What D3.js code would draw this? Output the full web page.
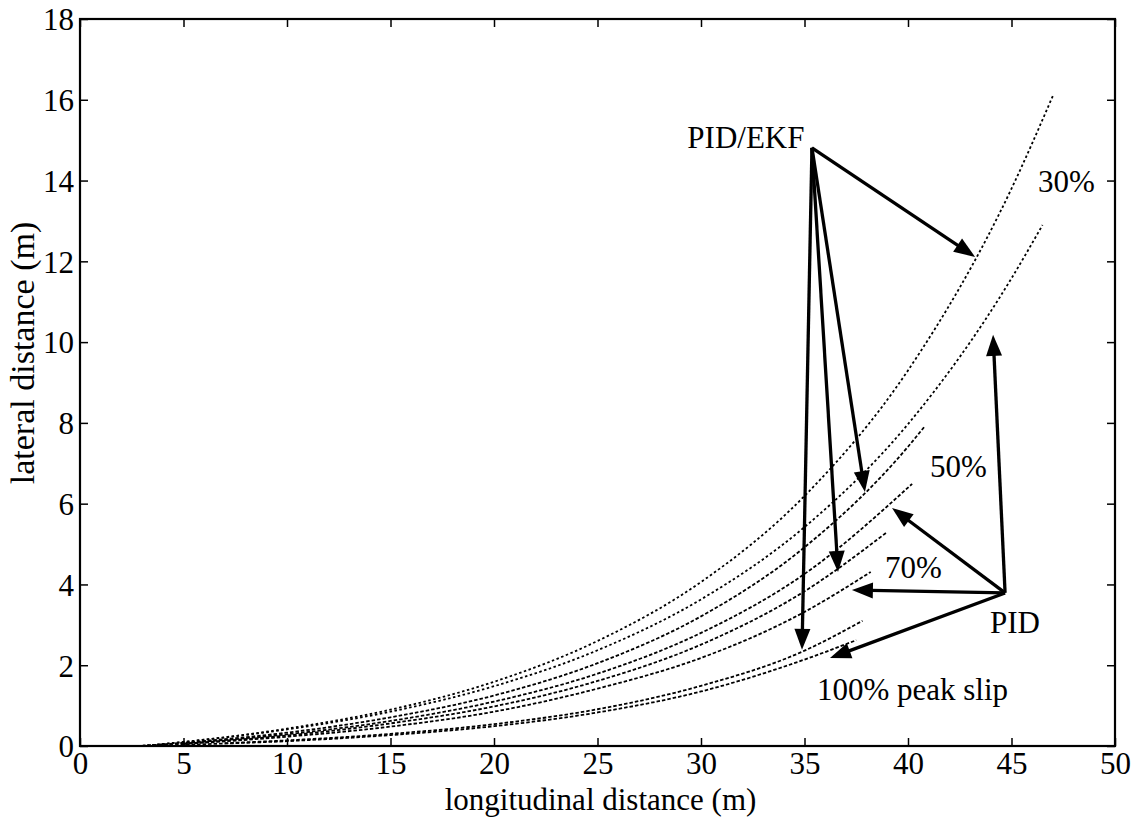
<!DOCTYPE html>
<html lang="en">
<head>
<meta charset="utf-8">
<style type="text/css">
    html, body { margin: 0; background: #fff; }
    svg { display: block; font-family: "Liberation Serif", "Times New Roman", serif; }
    .curve { fill: none; stroke: #000; stroke-width: 1.8px; }
    .arrow { stroke: #000; stroke-width: 3.3px; fill: none; }
    .head { fill: #000; stroke: none; }
    .note { font-size: 31px; fill: #000; }
</style>
</head>
<body>
<div id="chart"></div>
<script src="https://cdn.jsdelivr.net/npm/d3@7"></script>
<script type="text/javascript">
    // tick labels
    var xTicks = [0, 5, 10, 15, 20, 25, 30, 35, 40, 45, 50];
    var yTicks = [0, 2, 4, 6, 8, 10, 12, 14, 16, 18];

    // trajectories (x: longitudinal, y: lateral)
    var curveNames = ["30% PID/EKF", "30% PID", "50% PID/EKF", "50% PID",
                      "70% PID/EKF", "70% PID", "100% PID/EKF", "100% PID"];
    var curveX = [
        [3, 5, 10, 15, 20, 25, 30, 35, 40, 45, 47],
        [3, 5, 10, 15, 20, 25, 30, 35, 40, 45, 46.5],
        [3, 5, 10, 15, 20, 25, 30, 35, 40, 40.8],
        [3, 5, 10, 15, 20, 25, 30, 35, 40.2],
        [5, 10, 15, 20, 25, 30, 35, 39],
        [5, 10, 15, 20, 25, 30, 35, 38.2],
        [7, 10, 15, 20, 25, 30, 35, 37.8],
        [3, 5, 10, 15, 20, 25, 30, 35, 37.5]
    ];
    var curveY = [
        [0, 0.10, 0.43, 0.90, 1.59, 2.60, 4.06, 6.19, 9.30, 13.8, 16.1],
        [0, 0.10, 0.41, 0.85, 1.48, 2.37, 3.63, 5.42, 7.97, 11.58, 12.9],
        [0, 0.08, 0.33, 0.71, 1.25, 2.05, 3.21, 4.92, 7.41, 7.91],
        [0, 0.07, 0.29, 0.62, 1.10, 1.79, 2.80, 4.26, 6.49],
        [0.06, 0.26, 0.56, 0.98, 1.61, 2.51, 3.83, 5.30],
        [0.05, 0.23, 0.48, 0.85, 1.42, 2.18, 3.32, 4.31],
        [0.07, 0.14, 0.30, 0.54, 0.91, 1.49, 2.36, 3.10],
        [0, 0.03, 0.12, 0.27, 0.49, 0.83, 1.35, 2.14, 2.62]
    ];

    // annotation arrows: [fromX, fromY, toX, toY]
    var ekfArrows = [
        [35.36, 14.81, 43.24, 12.11],
        [35.36, 14.81, 37.92, 6.29],
        [35.36, 14.81, 36.62, 4.31],
        [35.36, 14.81, 34.88, 2.38]
    ];
    var pidArrows = [
        [44.69, 3.79, 44.11, 10.18],
        [44.69, 3.79, 39.23, 5.89],
        [44.69, 3.79, 37.29, 3.86],
        [44.69, 3.79, 36.23, 2.18]
    ];
    // labels: [text, x, y, anchor]
    var notes = [
        ["PID/EKF", 35.0, 14.81, "end"],
        ["30%", 46.28, 13.72, "start"],
        ["50%", 41.06, 6.66, "start"],
        ["70%", 38.89, 4.16, "start"],
        ["PID", 43.96, 2.80, "start"],
        ["100% peak slip", 35.6, 1.14, "start"]
    ];

    var width = 1141, height = 818,
        margin = {top: 19, right: 26, bottom: 72, left: 80};

    var svg = d3.select("#chart").append("svg")
        .attr("width", width)
        .attr("height", height);

    var x = d3.scaleLinear().domain([0, 50]).range([margin.left, width - margin.right]);
    var y = d3.scaleLinear().domain([0, 18]).range([height - margin.bottom, margin.top]);

    // axes, ticks pointing inward on all four sides
    var gx = svg.append("g")
        .attr("transform", "translate(0," + y(0) + ")")
        .call(d3.axisBottom(x).tickValues(xTicks).tickSizeInner(-8).tickSizeOuter(0));
    gx.selectAll("text").attr("y", 28).attr("dy", null);

    var gy = svg.append("g")
        .attr("transform", "translate(" + x(0) + ",0)")
        .call(d3.axisLeft(y).tickValues(yTicks).tickSizeInner(-8).tickSizeOuter(0));
    gy.selectAll("text").attr("x", -6).attr("dy", "0.35em");

    svg.append("g")
        .attr("transform", "translate(0," + y(18) + ")")
        .call(d3.axisTop(x).tickValues(xTicks).tickSizeInner(-8).tickSizeOuter(0).tickFormat(""));
    svg.append("g")
        .attr("transform", "translate(" + x(50) + ",0)")
        .call(d3.axisRight(y).tickValues(yTicks).tickSizeInner(-8).tickSizeOuter(0).tickFormat(""));

    svg.selectAll(".domain").remove();
    svg.selectAll(".tick line").attr("stroke", "#000").attr("stroke-width", 1.5);
    svg.selectAll(".tick text")
        .attr("fill", "#000")
        .style("font-size", "31px")
        .style("font-family", "'Liberation Serif', 'Times New Roman', serif");

    svg.append("rect")
        .attr("x", x(0)).attr("y", y(18))
        .attr("width", x(50) - x(0)).attr("height", y(0) - y(18))
        .attr("fill", "none").attr("stroke", "#000").attr("stroke-width", 2.2);

    // trajectories
    var line = d3.line()
        .x(function (d) { return x(d[0]); })
        .y(function (d) { return y(d[1]); })
        .curve(d3.curveMonotoneX);

    svg.selectAll(".curve")
        .data(curveNames)
        .enter().append("path")
        .attr("class", "curve")
        .attr("stroke-dasharray", function (d, i) { return i < 2 ? "2.5,2.5" : "3.5,2"; })
        .attr("d", function (d, i) {
            return line(curveX[i].map(function (v, j) { return [v, curveY[i][j]]; }));
        });

    // arrows
    var headLen = 21, headHalf = 8;
    function drawArrow(a) {
        var x1 = x(a[0]), y1 = y(a[1]), x2 = x(a[2]), y2 = y(a[3]);
        var ang = Math.atan2(y2 - y1, x2 - x1);
        var bx = x2 - headLen * Math.cos(ang), by = y2 - headLen * Math.sin(ang);
        svg.append("line").attr("class", "arrow")
            .attr("x1", x1).attr("y1", y1)
            .attr("x2", bx + 2 * Math.cos(ang)).attr("y2", by + 2 * Math.sin(ang));
        var px = -Math.sin(ang) * headHalf, py = Math.cos(ang) * headHalf;
        svg.append("path").attr("class", "head")
            .attr("d", "M" + x2 + "," + y2 +
                       "L" + (bx + px) + "," + (by + py) +
                       "L" + (bx - px) + "," + (by - py) + "Z");
    }
    ekfArrows.forEach(drawArrow);
    pidArrows.forEach(drawArrow);

    svg.selectAll(".note")
        .data(notes)
        .enter().append("text")
        .attr("class", "note")
        .attr("x", function (d) { return x(d[1]); })
        .attr("y", function (d) { return y(d[2]); })
        .attr("text-anchor", function (d) { return d[3]; })
        .text(function (d) { return d[0]; });

    // axis titles
    svg.append("text")
        .attr("x", (x(0) + x(50)) / 2 + 3)
        .attr("y", 810)
        .attr("text-anchor", "middle")
        .style("font-size", "31px")
        .text("longitudinal distance (m)");

    svg.append("text")
        .attr("transform", "translate(34," + 353 + ") rotate(-90)")
        .attr("text-anchor", "middle")
        .style("font-size", "34px")
        .text("lateral distance (m)");
</script>
</body>
</html>
